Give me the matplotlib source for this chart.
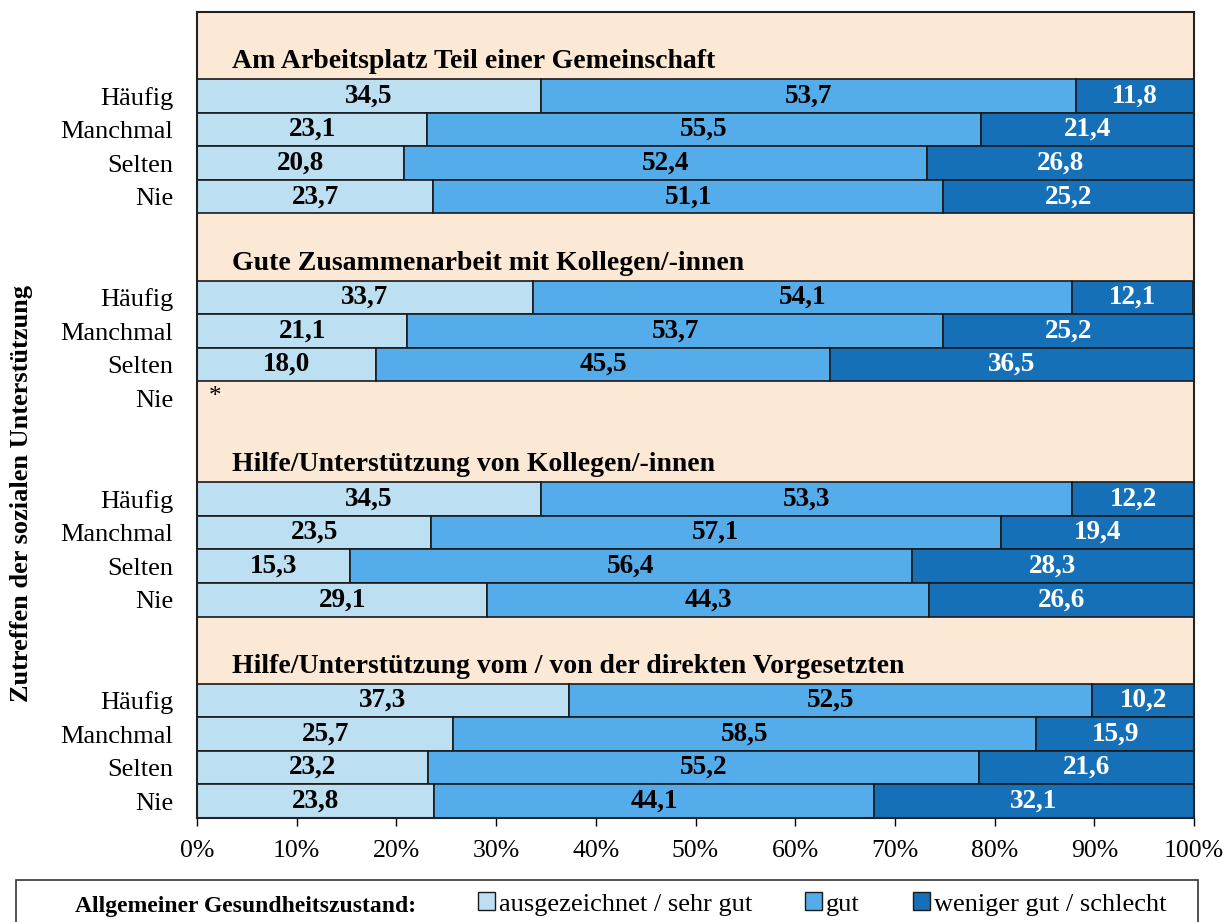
import numpy as np
import matplotlib
matplotlib.use("Agg")
import matplotlib.pyplot as plt
from matplotlib.patches import Patch, Rectangle

plt.rcParams['font.family'] = ['Liberation Serif', 'DejaVu Serif']

groups = [
    "Am Arbeitsplatz Teil einer Gemeinschaft",
    "Gute Zusammenarbeit mit Kollegen/-innen",
    "Hilfe/Unterstützung von Kollegen/-innen",
    "Hilfe/Unterstützung vom / von der direkten Vorgesetzten",
]
rows = ["Häufig", "Manchmal", "Selten", "Nie"]
categories = ["ausgezeichnet / sehr gut", "gut", "weniger gut / schlecht"]

# values per group: rows x categories (None = no data, shown as *)
values = [
    [[34.5, 53.7, 11.8], [23.1, 55.5, 21.4], [20.8, 52.4, 26.8], [23.7, 51.1, 25.2]],
    [[33.7, 54.1, 12.1], [21.1, 53.7, 25.2], [18.0, 45.5, 36.5], None],
    [[34.5, 53.3, 12.2], [23.5, 57.1, 19.4], [15.3, 56.4, 28.3], [29.1, 44.3, 26.6]],
    [[37.3, 52.5, 10.2], [25.7, 58.5, 15.9], [23.2, 55.2, 21.6], [23.8, 44.1, 32.1]],
]

colors = ["#BDDFF2", "#55ACEA", "#1570B8"]
text_colors = ["black", "black", "white"]
bg = "#FBE9D5"

W, H = 1224, 922
fig = plt.figure(figsize=(W / 100, H / 100), dpi=100)
ax = fig.add_axes([197 / W, 1 - 818 / H, (1194 - 197) / W, (818 - 12) / H])
ax.set_facecolor(bg)

yticks, ylabels = [], []
for g, (title, data) in enumerate(zip(groups, values)):
    base = g * 6
    ax.text(3.5, base + 0.98, title, ha='left', va='center',
            fontsize=20, fontweight='bold')
    for r, name in enumerate(rows):
        y = base + 2 + r
        yticks.append(y)
        ylabels.append(name)
        vals = data[r] if data is not None else None
        if vals is None:
            ax.text(1.2, y - 0.05, "*", ha='left', va='center', fontsize=18)
            continue
        left = 0
        for c, v in enumerate(vals):
            ax.barh(y, v, left=left, height=1.0, color=colors[c],
                    edgecolor='#1a1a1a', linewidth=1.2)
            ax.text(left + v / 2, y, f"{v:.1f}".replace(".", ","),
                    ha='center', va='center', fontsize=19.5, fontweight='bold',
                    color=text_colors[c])
            left += v

ax.set_xlim(0, 100)
ax.set_ylim(23.5, -0.5)
ax.set_yticks(yticks)
ax.set_yticklabels(ylabels, fontsize=19)
ax.tick_params(axis='y', length=0, pad=17)
ax.set_xticks(np.arange(0, 101, 10))
ax.set_xticklabels([f"{t}%" for t in range(0, 101, 10)], fontsize=18.5)
ax.tick_params(axis='x', length=6, width=1, pad=10, direction='out')
for s in ax.spines.values():
    s.set_linewidth(1.5)
    s.set_color('#222222')

fig.text(22 / W, 1 - 493 / H, "Zutreffen der sozialen Unterstützung",
         rotation=90, ha='center', va='center', fontsize=19, fontweight='bold')

# legend box
fig.patches.append(Rectangle((16 / W, 1 - 935 / H), (1198 - 16) / W, 55 / H,
                             transform=fig.transFigure, facecolor='white',
                             edgecolor='#333333', linewidth=1.2))
fig.text(75 / W, 1 - 906 / H, "Allgemeiner Gesundheitszustand:",
         ha='left', va='center', fontsize=17, fontweight='bold')
handles = [Patch(facecolor=c, edgecolor='#1a1a1a', linewidth=1) for c in colors]
leg = fig.legend(handles, categories, loc='center left', ncol=3,
                 bbox_to_anchor=(478 / W, 1 - 904 / H), fontsize=19,
                 frameon=False, handlelength=0.65, handleheight=0.65,
                 handletextpad=0.15, columnspacing=2.0, borderpad=0,
                 borderaxespad=0)

fig.savefig("out.png", dpi=100)
